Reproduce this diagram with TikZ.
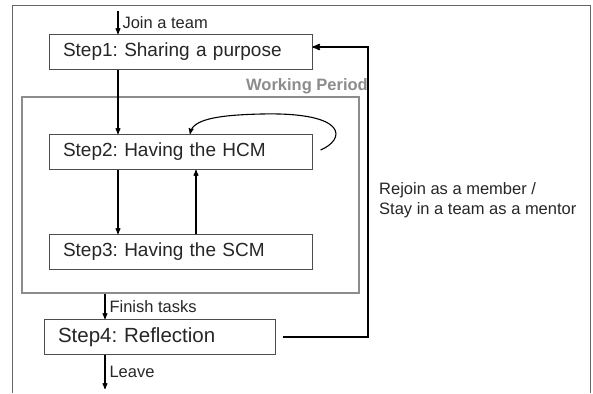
\documentclass[tikz,border=0pt]{standalone}
\usepackage{fontspec}
\setmainfont{Liberation Sans}
\frenchspacing
\usetikzlibrary{arrows,positioning,calc}
\tikzstyle{arrow} = [line width=1.1pt,->,>=stealth']
\tikzstyle{backline} = [line width=1.6pt,->,>=stealth']
\tikzstyle{stepbox} = [draw=black!70, line width=1pt, fill=white, inner xsep=14pt, align=left,
	minimum height=35pt, text=black!85, font=\fontsize{19}{22}\selectfont]
\tikzstyle{steplabel} = [text=black!85, inner sep=4pt, font=\fontsize{16.5}{20}\selectfont]
\tikzstyle{wpbox} = [draw=black!45, line width=2pt, minimum width=337pt, minimum height=196pt]
\tikzstyle{wplabel} = [text=black!45, inner sep=0pt, font=\bfseries\fontsize{16.5}{20}\selectfont]

\begin{document}
\begin{tikzpicture}[x=1pt,y=-1pt]
	\useasboundingbox (0,0) rectangle (593,393);
	\draw[black!60,line width=0.8pt] (12,393) -- (12,5) -- (590,5) -- (590,393);
	
	\node[wpbox] (wp) at (190.5,195) {};
	\node[wplabel, anchor=base east] (wptitle) at ($(wp.north east)+(8,-5)$) {Working Period};
	
	\node[stepbox, text width=235pt] (step1) at (180.5,52) {Step1: Sharing a purpose};
	\node[stepbox, text width=235pt, below=64pt of step1] (step2) {Step2: Having the HCM};
	\node[stepbox, text width=235pt, below=64pt of step2] (step3) {Step3: Having the SCM};
	\node[stepbox, text width=203pt, below=49pt of step3, xshift=-21pt,
		font=\fontsize{20.5}{24}\selectfont] (step4) {Step4: Reflection};
	
	\coordinate (join) at ($(step1.north)+(-62.5,-23)$);
	\coordinate (s4top) at ([xshift=-54.5pt]step4.north);
	\coordinate (s4bot) at ([xshift=-54.5pt]step4.south);
	\coordinate (leave) at ($(s4bot)+(0,34)$);
	\coordinate (loopstart) at ($(step2.east)+(8,-2)$);
	\coordinate (corner) at (368,47);
	
	\draw[arrow] (join) -- (join |- step1.north) node[midway, right, steplabel] {Join a team};
	\draw[arrow] ([xshift=-62.5pt]step1.south) -- ([xshift=-62.5pt]step2.north);
	\draw[arrow] ([xshift=-62.5pt]step2.south) -- ([xshift=-62.5pt]step3.north);
	\draw[arrow] ([xshift=15.5pt]step3.north) -- ([xshift=15.5pt]step2.south);
	\draw[arrow] (loopstart) .. controls (345,140) and (350,112) .. (262,114)
		.. controls (215,115) and (193,120) .. ([xshift=9.5pt]step2.north);
	\draw[arrow] (s4top |- wp.south) -- (s4top) node[midway, right, steplabel] {Finish tasks};
	\draw[arrow] (s4bot) -- (leave) node[midway, right, steplabel] {Leave};
	\draw[backline] ([xshift=7pt]step4.east) -| (corner) -- ([yshift=5pt]step1.east);
	
	\node[steplabel, anchor=west, align=left] (rejoin) at (375,200)
		{Rejoin as a member /\\Stay in a team as a mentor};
\end{tikzpicture}
\end{document}
